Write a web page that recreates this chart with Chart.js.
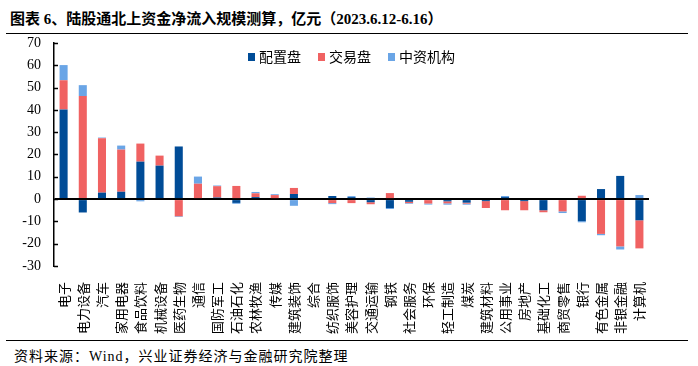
<!DOCTYPE html>
<html lang="zh">
<head>
<meta charset="UTF-8">
<title>陆股通北上资金净流入规模测算</title>
<script src="https://cdn.jsdelivr.net/npm/chart.js"></script>
<style>
    body { margin: 0; background: #fff; width: 698px; height: 366px; position: relative; overflow: hidden; }
    #title { position: absolute; left: 10px; top: 7px; font: bold 15px "Liberation Serif", "Noto Sans CJK SC"; color: #000; white-space: nowrap; }
    .rule { position: absolute; left: 6px; width: 682px; height: 1px; background: #000; }
    #box { position: absolute; left: 0; top: 34px; width: 698px; height: 308px; }
    #source { position: absolute; left: 14px; top: 345px; font: 14px "Liberation Serif", "Noto Sans CJK SC"; letter-spacing: 1px; color: #000; white-space: nowrap; }
</style>
</head>
<body>
<div id="title">图表 6、陆股通北上资金净流入规模测算，亿元（2023.6.12-6.16）</div>
<div class="rule" style="top:33px"></div>
<div class="rule" style="top:340px"></div>
<div id="source">资料来源：Wind，兴业证券经济与金融研究院整理</div>
<div id="box"><canvas id="myChart" width="698" height="308"></canvas></div>
<script>
// 行业
const labels = ['电子', '电力设备', '汽车', '家用电器', '食品饮料', '机械设备', '医药生物', '通信',
    '国防军工', '石油石化', '农林牧渔', '传媒', '建筑装饰', '综合', '纺织服饰', '美容护理',
    '交通运输', '钢铁', '社会服务', '环保', '轻工制造', '煤炭', '建筑材料', '公用事业',
    '房地产', '基础化工', '商贸零售', '银行', '有色金属', '非银金融', '计算机'];

// 亿元
const peizhi = [40.2, -6.0, 2.9, 3.3, 16.8, 15.0, 23.6, 0, 0.7, -1.7, 0.9, 0, 2.3, 0, 1.4, 0.9,
    -1.4, -4.0, -1.2, 0, -1.0, -1.6, -0.9, 0.9, -0.9, -5.0, 0, -9.9, 4.5, 10.4, -9.5];
const jiaoyi = [13.1, 46.2, 24.4, 18.9, 8.1, 4.5, -7.7, 6.9, 5.1, 5.9, 1.7, 1.8, 2.7, 0, -1.8, -1.8,
    -0.9, 2.7, -0.6, -2.0, -0.9, -0.45, -3.1, -5.0, -4.1, -0.9, -5.5, 1.5, -15.6, -21.2, -12.6];
const zhongzi = [6.8, 4.9, 0.3, 1.8, -1.0, 0, -0.3, 3.2, 0.3, -0.4, 0.6, 0.4, -3.0, 0, -0.45, 0.45,
    0.7, -0.45, -0.3, -0.45, -0.6, -0.45, 0, 0.5, 0, 0, -0.75, -0.5, -0.6, -1.4, 1.8];

const yTicks = [70, 60, 50, 40, 30, 20, 10, 0, -10, -20, -30];

const seriesNames = ['配置盘', '交易盘', '中资机构'];
const colors = ['#004C97', '#F06262', '#6AA5E6'];

// legend drawn inside the plot area, centered near the top
const innerLegend = {
    id: 'innerLegend',
    afterDraw(chart) {
        const ctx = chart.ctx;
        const area = chart.chartArea;
        ctx.save();
        ctx.font = '14px "Noto Sans CJK SC"';
        ctx.textBaseline = 'middle';
        const box = 7, gapText = 4, gapItem = 17;
        let total = 0;
        seriesNames.forEach((n, i) => {
            total += box + gapText + ctx.measureText(n).width + (i < seriesNames.length - 1 ? gapItem : 0);
        });
        let x = (area.left + area.right) / 2 - total / 2;
        const y = area.top + 14;
        seriesNames.forEach((n, i) => {
            ctx.fillStyle = colors[i];
            ctx.fillRect(x, y - 4, box, 8);
            x += box + gapText;
            ctx.fillStyle = '#000';
            ctx.fillText(n, x, y);
            x += ctx.measureText(n).width + gapItem;
        });
        ctx.restore();
    }
};

// small inward tick marks on the y axis
const innerTicks = {
    id: 'innerTicks',
    afterDraw(chart) {
        const y = chart.scales.y;
        const ctx = chart.ctx;
        ctx.save();
        ctx.strokeStyle = '#000';
        ctx.lineWidth = 1.5;
        y.ticks.forEach(t => {
            const py = Math.round(y.getPixelForValue(t.value)) + 0.5;
            ctx.beginPath();
            ctx.moveTo(y.right, py);
            ctx.lineTo(y.right + 4, py);
            ctx.stroke();
        });
        ctx.restore();
    }
};

const ctx = document.getElementById('myChart').getContext('2d');
const chart = new Chart(ctx, {
    type: 'bar',
    data: {
        labels: labels,
        datasets: [peizhi, jiaoyi, zhongzi].map((d, i) => ({
            label: seriesNames[i],
            data: d,
            backgroundColor: colors[i],
            borderWidth: 0,
            barPercentage: 0.42,
            categoryPercentage: 1
        }))
    },
    options: {
        responsive: false,
        animation: false,
        layout: { padding: { top: 9, right: 49, bottom: 0, left: 0 } },
        plugins: {
            legend: { display: false },
            tooltip: { enabled: false }
        },
        scales: {
            x: {
                stacked: true,
                grid: { display: false },
                border: { display: false },
                ticks: {
                    autoSkip: false,
                    maxRotation: 90,
                    minRotation: 90,
                    padding: 8,
                    color: '#000',
                    font: { family: 'Noto Sans CJK SC', size: 13 }
                }
            },
            y: {
                stacked: true,
                min: -30,
                max: 70,
                afterBuildTicks: s => { s.ticks = yTicks.map(v => ({ value: v })); },
                afterFit: s => {
                    s.width = 54;
                    s.paddingTop = 0;
                    s.paddingBottom = 0;
                },
                ticks: {
                    autoSkip: false,
                    padding: 13,
                    color: '#000',
                    font: { family: 'Liberation Serif', size: 14 }
                },
                grid: {
                    drawTicks: false,
                    color: c => (c.tick && c.tick.value === 0) ? '#000' : 'rgba(0,0,0,0)',
                    lineWidth: 2
                },
                border: { display: true, color: '#000', width: 1.5 }
            }
        }
    },
    plugins: [innerLegend, innerTicks]
});
</script>
</body>
</html>
